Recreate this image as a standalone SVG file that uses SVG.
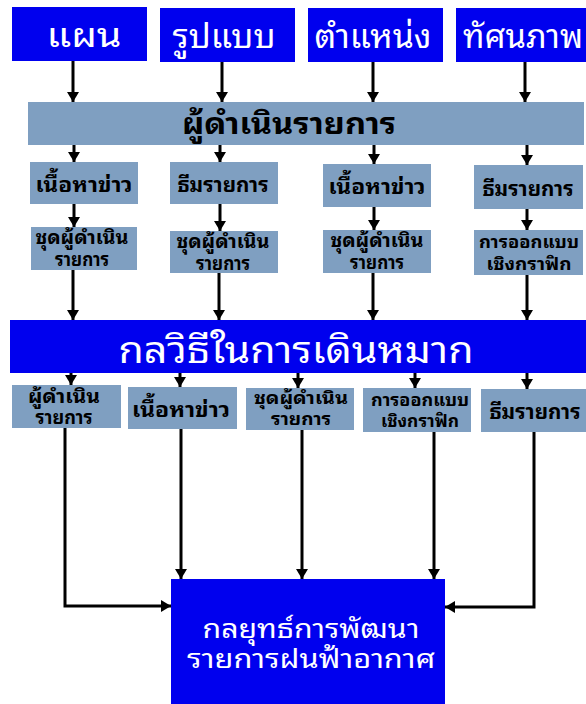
<svg xmlns="http://www.w3.org/2000/svg" width="586" height="704" viewBox="0 0 586 704">
<defs>
<marker id="ah" markerUnits="userSpaceOnUse" markerWidth="14" markerHeight="12" refX="10" refY="6" orient="auto">
<path d="M0,0 L10,6 L0,12 Z" fill="#000"/>
</marker>
<style>
.blue{fill:#0000ee}
.gray{fill:#7f9fc1}
.t{font-family:"Noto Sans Thai Looped","Noto Sans Thai","Noto Sans",sans-serif;text-anchor:middle}
.w{fill:#fff}
.k{fill:#000;font-weight:bold}
.c{stroke:#000;stroke-width:3;fill:none;marker-end:url(#ah)}
</style>
</defs>
<rect width="586" height="704" fill="#fff"/>
<g id="connectors">
<path class="c" d="M73,61 V102"/>
<path class="c" d="M222,62 V102"/>
<path class="c" d="M373,62 V102"/>
<path class="c" d="M525,62 V102"/>
<path class="c" d="M74,145 V162"/>
<path class="c" d="M220,145 V162"/>
<path class="c" d="M374,145 V164"/>
<path class="c" d="M527,145 V165"/>
<path class="c" d="M74,204 V227"/>
<path class="c" d="M220,204 V231"/>
<path class="c" d="M374,207 V230"/>
<path class="c" d="M527,209 V230"/>
<path class="c" d="M73,270 V320"/>
<path class="c" d="M219,273 V320"/>
<path class="c" d="M373,273 V320"/>
<path class="c" d="M527,275 V320"/>
<path class="c" d="M71,373 V385"/>
<path class="c" d="M180,373 V387"/>
<path class="c" d="M298,373 V388"/>
<path class="c" d="M415,373 V388"/>
<path class="c" d="M527,373 V389"/>
<path class="c" d="M65,428 V606 H171"/>
<path class="c" d="M181,429 V579"/>
<path class="c" d="M302,430 V579"/>
<path class="c" d="M434,432 V579"/>
<path class="c" d="M534,432 V607 H445"/>
</g>
<g id="n-plan"><rect class="blue" x="12" y="7" width="135" height="54"/><text class="t w" x="84" y="47" font-size="33" textLength="75" lengthAdjust="spacingAndGlyphs">แผน</text></g>
<g id="n-format"><rect class="blue" x="160" y="8" width="135" height="54"/><text class="t w" x="224" y="48" font-size="33" textLength="103" lengthAdjust="spacingAndGlyphs">รูปแบบ</text></g>
<g id="n-position"><rect class="blue" x="308" y="8" width="135" height="54"/><text class="t w" x="373" y="48" font-size="33" textLength="117" lengthAdjust="spacingAndGlyphs">ตำแหน่ง</text></g>
<g id="n-view"><rect class="blue" x="456" y="8" width="130" height="54"/><text class="t w" x="523" y="48" font-size="33" textLength="120" lengthAdjust="spacingAndGlyphs">ทัศนภาพ</text></g>
<g id="n-host"><rect class="gray" x="28" y="102" width="556" height="43"/><text class="t k" x="289" y="134" font-size="29" textLength="214" lengthAdjust="spacingAndGlyphs">ผู้ดำเนินรายการ</text></g>
<g id="n-r2a"><rect class="gray" x="30" y="162" width="108" height="42"/><text class="t k" x="84" y="192" font-size="21" textLength="97" lengthAdjust="spacingAndGlyphs">เนื้อหาข่าว</text></g>
<g id="n-r2b"><rect class="gray" x="170" y="162" width="108" height="42"/><text class="t k" x="223" y="192" font-size="20" textLength="91" lengthAdjust="spacingAndGlyphs">ธีมรายการ</text></g>
<g id="n-r2c"><rect class="gray" x="323" y="164" width="108" height="43"/><text class="t k" x="377" y="194" font-size="21" textLength="97" lengthAdjust="spacingAndGlyphs">เนื้อหาข่าว</text></g>
<g id="n-r2d"><rect class="gray" x="474" y="165" width="109" height="44"/><text class="t k" x="528" y="196" font-size="20" textLength="91" lengthAdjust="spacingAndGlyphs">ธีมรายการ</text></g>
<g id="n-r3a"><rect class="gray" x="31" y="227" width="106" height="43"/><text class="t k" font-size="19"><tspan x="82" y="244" textLength="93" lengthAdjust="spacingAndGlyphs">ชุดผู้ดำเนิน</tspan><tspan x="82" y="266" textLength="54" lengthAdjust="spacingAndGlyphs">รายการ</tspan></text></g>
<g id="n-r3b"><rect class="gray" x="170" y="231" width="108" height="42"/><text class="t k" font-size="19"><tspan x="223" y="248" textLength="93" lengthAdjust="spacingAndGlyphs">ชุดผู้ดำเนิน</tspan><tspan x="223" y="270" textLength="54" lengthAdjust="spacingAndGlyphs">รายการ</tspan></text></g>
<g id="n-r3c"><rect class="gray" x="323" y="230" width="108" height="43"/><text class="t k" font-size="19"><tspan x="377" y="247" textLength="93" lengthAdjust="spacingAndGlyphs">ชุดผู้ดำเนิน</tspan><tspan x="377" y="269" textLength="54" lengthAdjust="spacingAndGlyphs">รายการ</tspan></text></g>
<g id="n-r3d"><rect class="gray" x="474" y="230" width="109" height="45"/><text class="t k" font-size="18"><tspan x="529" y="248" textLength="100" lengthAdjust="spacingAndGlyphs">การออกแบบ</tspan><tspan x="529" y="270" textLength="85" lengthAdjust="spacingAndGlyphs">เชิงกราฟิก</tspan></text></g>
<g id="n-tactic"><rect class="blue" x="10" y="320" width="576" height="53"/><text class="t w" x="296" y="363" font-size="37" textLength="355" lengthAdjust="spacingAndGlyphs">กลวิธีในการเดินหมาก</text></g>
<g id="n-r4a"><rect class="gray" x="12" y="385" width="109" height="43"/><text class="t k" font-size="19"><tspan x="64" y="403" textLength="72" lengthAdjust="spacingAndGlyphs">ผู้ดำเนิน</tspan><tspan x="64" y="424" textLength="57" lengthAdjust="spacingAndGlyphs">รายการ</tspan></text></g>
<g id="n-r4b"><rect class="gray" x="128" y="387" width="109" height="42"/><text class="t k" x="181" y="417" font-size="21" textLength="98" lengthAdjust="spacingAndGlyphs">เนื้อหาข่าว</text></g>
<g id="n-r4c"><rect class="gray" x="246" y="388" width="108" height="42"/><text class="t k" font-size="18"><tspan x="301" y="404" textLength="94" lengthAdjust="spacingAndGlyphs">ชุดผู้ดำเนิน</tspan><tspan x="301" y="425" textLength="60" lengthAdjust="spacingAndGlyphs">รายการ</tspan></text></g>
<g id="n-r4d"><rect class="gray" x="363" y="388" width="108" height="44"/><text class="t k" font-size="18"><tspan x="420" y="406" textLength="98" lengthAdjust="spacingAndGlyphs">การออกแบบ</tspan><tspan x="420" y="427" textLength="78" lengthAdjust="spacingAndGlyphs">เชิงกราฟิก</tspan></text></g>
<g id="n-r4e"><rect class="gray" x="481" y="389" width="105" height="43"/><text class="t k" x="535" y="419" font-size="20" textLength="91" lengthAdjust="spacingAndGlyphs">ธีมรายการ</text></g>
<g id="n-strategy"><rect class="blue" x="171" y="579" width="274" height="125"/><text class="t w" font-size="27"><tspan x="311" y="638" textLength="217" lengthAdjust="spacingAndGlyphs">กลยุทธ์การพัฒนา</tspan><tspan x="311" y="668" textLength="248" lengthAdjust="spacingAndGlyphs">รายการฝนฟ้าอากาศ</tspan></text></g>
</svg>
